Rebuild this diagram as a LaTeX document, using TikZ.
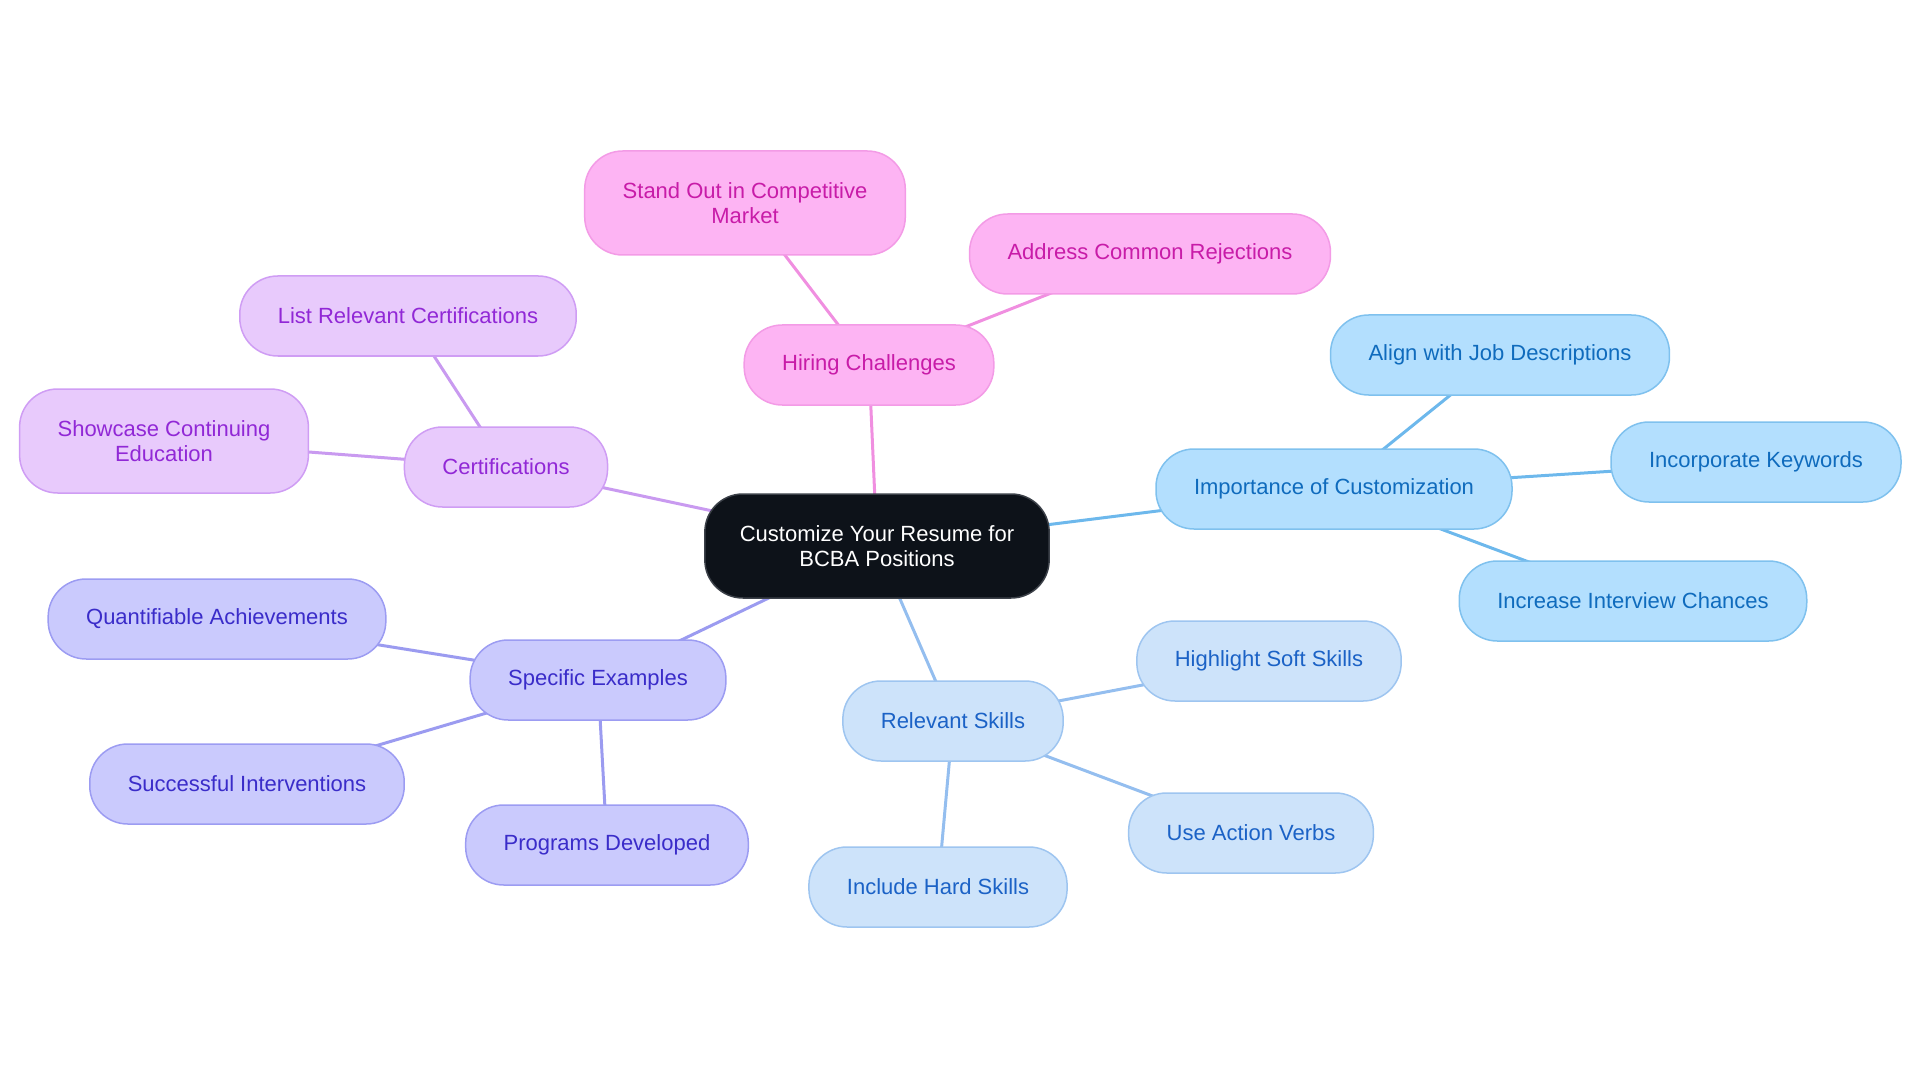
\documentclass[tikz,border=0pt]{standalone}
\usepackage{fontspec}
\setmainfont{Liberation Sans}
\usetikzlibrary{backgrounds}
\definecolor{rootfill}{HTML}{0D1219}
\definecolor{rootdraw}{HTML}{3B4048}
\definecolor{hirefill}{HTML}{FDB4F3}
\definecolor{hiredraw}{HTML}{F39BE6}
\definecolor{hiretext}{HTML}{C81CA8}
\definecolor{hireline}{HTML}{F08FE0}
\definecolor{certfill}{HTML}{E8CAFC}
\definecolor{certdraw}{HTML}{CF9DF4}
\definecolor{certtext}{HTML}{9128D6}
\definecolor{certline}{HTML}{C99AF0}
\definecolor{custfill}{HTML}{B3DFFE}
\definecolor{custdraw}{HTML}{7FC1EE}
\definecolor{custtext}{HTML}{0F6BBD}
\definecolor{custline}{HTML}{6DB8EC}
\definecolor{skillfill}{HTML}{CDE3FA}
\definecolor{skilldraw}{HTML}{9EC5F0}
\definecolor{skilltext}{HTML}{1B62C6}
\definecolor{skillline}{HTML}{94BEEF}
\definecolor{examfill}{HTML}{CACAFD}
\definecolor{examdraw}{HTML}{9C9CF2}
\definecolor{examtext}{HTML}{3A2CC9}
\definecolor{examline}{HTML}{9B9BF0}

\begin{document}
\begin{tikzpicture}
[x=1pt, y=-1pt,
basenode/.style={rectangle, rounded corners=38pt, line width=1.5pt, inner xsep=38pt, minimum height=80pt, align=center, font=\fontsize{22}{25}\selectfont},
rootnode/.style={basenode, fill=rootfill, draw=rootdraw, text=white, minimum height=104pt, inner xsep=35pt},
hirenode/.style={basenode, fill=hirefill, draw=hiredraw, text=hiretext},
certnode/.style={basenode, fill=certfill, draw=certdraw, text=certtext},
custnode/.style={basenode, fill=custfill, draw=custdraw, text=custtext},
skillnode/.style={basenode, fill=skillfill, draw=skilldraw, text=skilltext},
examnode/.style={basenode, fill=examfill, draw=examdraw, text=examtext},
connect/.style={line width=3pt}]
\useasboundingbox (0,0) rectangle (1920,1083);
\node[rootnode]	(root) at (877, 546) {Customize Your Resume for\\BCBA Positions};
\node[hirenode]	(hiring) at (869, 365) {Hiring Challenges};
\node[hirenode, minimum height=104pt]	(standout) at (745, 203) {Stand Out in Competitive\\Market};
\node[hirenode]	(rejections) at (1150, 254) {Address Common Rejections};
\node[certnode]	(cert) at (506, 467) {Certifications};
\node[certnode]	(listcert) at (408, 316) {List Relevant Certifications};
\node[certnode, minimum height=104pt]	(education) at (164, 441) {Showcase Continuing\\Education};
\node[custnode]	(custom) at (1334, 489) {Importance of Customization};
\node[custnode]	(align) at (1500, 355) {Align with Job Descriptions};
\node[custnode]	(keywords) at (1756, 462) {Incorporate Keywords};
\node[custnode]	(interview) at (1633, 601) {Increase Interview Chances};
\node[skillnode]	(skills) at (953, 721) {Relevant Skills};
\node[skillnode]	(soft) at (1269, 661) {Highlight Soft Skills};
\node[skillnode]	(verbs) at (1251, 833) {Use Action Verbs};
\node[skillnode]	(hard) at (938, 887) {Include Hard Skills};
\node[examnode]	(examples) at (598, 680) {Specific Examples};
\node[examnode]	(achieve) at (217, 619) {Quantifiable Achievements};
\node[examnode]	(interv) at (247, 784) {Successful Interventions};
\node[examnode]	(programs) at (607, 845) {Programs Developed};
\begin{scope}[on background layer]
\draw[connect, draw=hireline] (root.center) -- (hiring.center);
\draw[connect, draw=hireline] (hiring.center) -- (standout.center);
\draw[connect, draw=hireline] (hiring.center) -- (rejections.center);
\draw[connect, draw=certline] (root.center) -- (cert.center);
\draw[connect, draw=certline] (cert.center) -- (listcert.center);
\draw[connect, draw=certline] (cert.center) -- (education.center);
\draw[connect, draw=custline] (root.center) -- (custom.center);
\draw[connect, draw=custline] (custom.center) -- (align.center);
\draw[connect, draw=custline] (custom.center) -- (keywords.center);
\draw[connect, draw=custline] (custom.center) -- (interview.center);
\draw[connect, draw=skillline] (root.center) -- (skills.center);
\draw[connect, draw=skillline] (skills.center) -- (soft.center);
\draw[connect, draw=skillline] (skills.center) -- (verbs.center);
\draw[connect, draw=skillline] (skills.center) -- (hard.center);
\draw[connect, draw=examline] (root.center) -- (examples.center);
\draw[connect, draw=examline] (examples.center) -- (achieve.center);
\draw[connect, draw=examline] (examples.center) -- (interv.center);
\draw[connect, draw=examline] (examples.center) -- (programs.center);
\end{scope}
\end{tikzpicture}
\end{document}
